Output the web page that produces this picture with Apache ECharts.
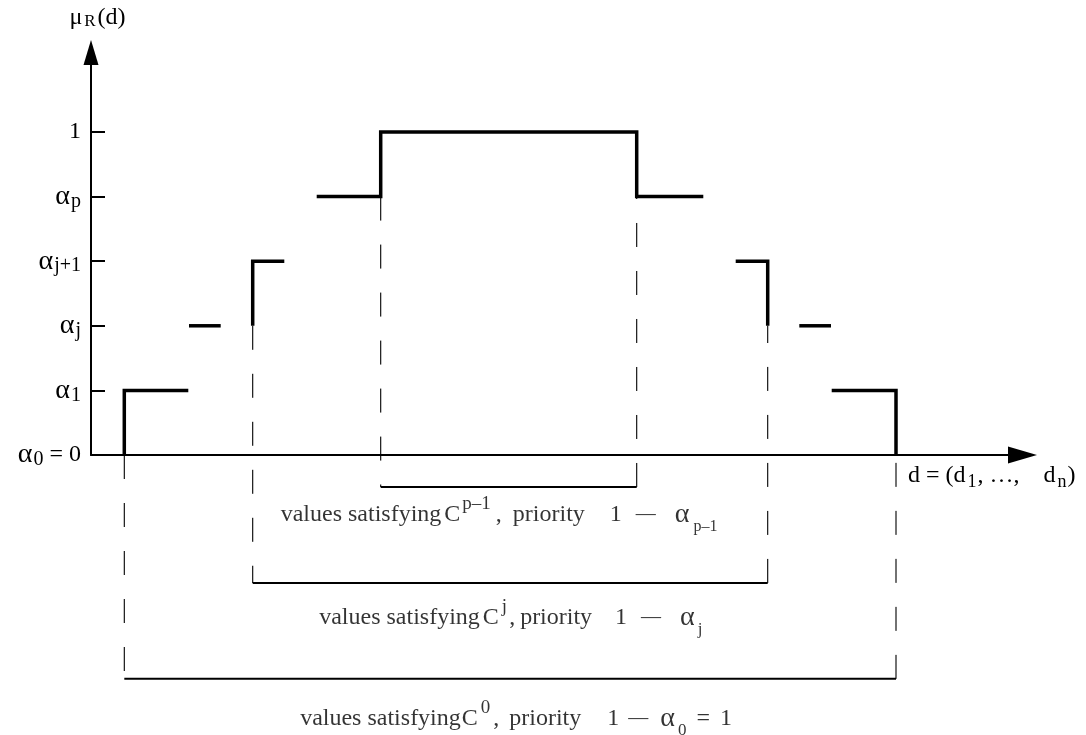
<!DOCTYPE html>
<html><head><meta charset="utf-8">
<script src="https://cdn.jsdelivr.net/npm/echarts@6/dist/echarts.min.js"></script>
<style>html,body{margin:0;padding:0;background:#fff}#c{width:1086px;height:735px}</style>
</head><body><div id="c"></div>
<script>
// membership levels shown on the μ axis
const levelValues = [0, 0.2, 0.4, 0.6, 0.8, 1];
const levelLabels = ['{a|α}{sub|0}{m| = 0}', '{a|α}{sub|1}', '{a|α}{sub|j}', '{a|α}{sub|j+1}', '{a|α}{sub|p}', '{m|1}'];

// step function pieces, points as [d, μ]
const stepPieces = [
  [[3.33, 0], [3.33, 0.2], [9.73, 0.2]],
  [[9.8, 0.4], [12.97, 0.4]],
  [[16.17, 0.4], [16.17, 0.6], [19.33, 0.6]],
  [[22.57, 0.8], [28.97, 0.8], [28.97, 1], [54.57, 1], [54.57, 0.8], [61.23, 0.8]],
  [[64.47, 0.6], [67.67, 0.6], [67.67, 0.4]],
  [[70.83, 0.4], [74.0, 0.4]],
  [[74.07, 0.2], [80.5, 0.2], [80.5, 0]]
];

// dashed projections: [d, from, to]
const projections = [
  [3.33, 0, -0.693],
  [16.17, 0.4, -0.396],
  [28.97, 0.8, -0.099],
  [54.57, -0.099, 0.8],
  [67.67, -0.396, 0.4],
  [80.5, -0.693, 0]
];

// brackets: [dStart, dEnd, level]
const brackets = [
  [28.97, 54.57, -0.099],
  [16.17, 67.67, -0.396],
  [3.33, 80.5, -0.693]
];
const bracketLabels = [
  '{t|values satisfying}{c|C}{sup|p–1}{t|,}{p1|priority}{n1|1}{d1|—}{a1|α}{sub|p–1}',
  '{t|values satisfying}{c|C}{supj|j}{t|,}{p2|priority}{n2|1}{d1|—}{a1|α}{subj|j}',
  '{t|values satisfying}{c0|C}{sup0|0}{t|,}{p3|priority}{n3|1}{d3|—}{a3|α}{sub0|0}{eq|=}{one|1}'
];
const yAxisName = '{m|μ}{r|R}{m|(d)}';
const xAxisName = '{m|d = (d}{sub|1}{m|, …,    d}{sub|n}{m|)}';

const FONT = 'Liberation Serif';
// label start offsets relative to bracket middle (px)
const labelOffsets = [[-228, 28], [-191, 35], [-210, 40]];

const T = (o) => Object.assign({ fontFamily: FONT, color: '#000', fontSize: 24, lineHeight: 40 }, o);
const bottomRich = {
  t: T({}),
  c: T({ padding: [0, 0, 0, 3] }),
  c0: T({ padding: [0, 0, 0, 1] }),
  sup: T({ fontSize: 19, lineHeight: 22, verticalAlign: 'top', padding: [0, 5, 0, 2] }),
  supj: T({ fontSize: 19, lineHeight: 22, verticalAlign: 'top', padding: [0, 2, 0, 3] }),
  sup0: T({ fontSize: 19, lineHeight: 22, verticalAlign: 'top', padding: [0, 3, 0, 3] }),
  p1: T({ padding: [0, 0, 0, 11] }),
  p2: T({ padding: [0, 0, 0, 5] }),
  p3: T({ padding: [0, 0, 0, 10] }),
  n1: T({ padding: [0, 0, 0, 25] }),
  n2: T({ padding: [0, 0, 0, 23] }),
  n3: T({ padding: [0, 0, 0, 26] }),
  d1: T({ fontSize: 20, padding: [0, 0, 0, 14] }),
  d3: T({ fontSize: 20, padding: [0, 0, 0, 9] }),
  a1: T({ fontSize: 28, padding: [0, 0, 0, 19] }),
  a3: T({ fontSize: 28, padding: [0, 0, 0, 12] }),
  sub: T({ fontSize: 16, lineHeight: 10, verticalAlign: 'bottom', padding: [0, 0, 0, 4] }),
  subj: T({ fontSize: 17, lineHeight: 10, verticalAlign: 'bottom', padding: [0, 0, 0, 3] }),
  sub0: T({ fontSize: 17, lineHeight: 10, verticalAlign: 'bottom', padding: [0, 0, 0, 3] }),
  eq: T({ padding: [0, 0, 0, 10] }),
  one: T({ padding: [0, 0, 0, 10] })
};

const series = [];
projections.forEach(p => {
  series.push({
    type: 'line', data: [[p[0], p[1]], [p[0], p[2]]], symbol: 'none', clip: false, silent: true,
    lineStyle: { color: '#000', width: 1.1, type: [24, 24] }, z: 2
  });
});
brackets.forEach(b => {
  series.push({
    type: 'line', data: [[b[0], b[2]], [b[1], b[2]]], symbol: 'none', clip: false, silent: true,
    lineStyle: { color: '#000', width: 2 }, z: 3
  });
});
stepPieces.forEach(piece => {
  series.push({
    type: 'line', data: piece, symbol: 'none', clip: false, silent: true,
    lineStyle: { color: '#000', width: 3.5, join: 'miter', cap: 'butt' }, z: 5
  });
});
brackets.forEach((b, i) => {
  series.push({
    type: 'scatter', data: [[(b[0] + b[1]) / 2, b[2]]], symbolSize: 1, clip: false, silent: true,
    itemStyle: { color: 'rgba(0,0,0,0)' },
    label: {
      show: true, position: 'inside', offset: labelOffsets[i],
      formatter: () => bracketLabels[i],
      align: 'left', verticalAlign: 'middle',
      rich: bottomRich
    }
  });
});

const chart = echarts.init(document.getElementById('c'), null, { renderer: 'canvas' });
chart.setOption({
  animation: false,
  backgroundColor: '#fff',
  grid: { left: 91, right: 63.5, top: 52.5, bottom: 280, containLabel: false },
  xAxis: {
    type: 'value', min: 0, max: 93.15,
    axisLine: { show: true, onZero: false, symbol: ['none', 'triangle'], symbolSize: [17, 29], lineStyle: { color: '#000', width: 2 } },
    axisTick: { show: false }, axisLabel: { show: false }, splitLine: { show: false },
    name: xAxisName, nameLocation: 'end', nameGap: -114.5,
    nameTextStyle: {
      padding: [42, 0, 0, 0], align: 'left', verticalAlign: 'middle',
      rich: {
        m: { fontFamily: FONT, fontSize: 24, color: '#000', lineHeight: 30 },
        sub: { fontFamily: FONT, fontSize: 18, color: '#000', verticalAlign: 'bottom', lineHeight: 12, padding: [0, 1, 0, 2] }
      }
    }
  },
  yAxis: {
    type: 'value', min: 0, max: 1.246,
    axisLine: { show: true, onZero: false, symbol: ['none', 'triangle'], symbolSize: [15, 25], lineStyle: { color: '#000', width: 2 } },
    axisTick: { show: true, inside: true, length: 14, customValues: levelValues.slice(1), lineStyle: { color: '#000', width: 2 } },
    axisLabel: {
      show: true, margin: 10, customValues: levelValues,
      formatter: v => { const i = levelValues.findIndex(x => Math.abs(x - v) < 1e-6); return i < 0 ? '' : levelLabels[i]; },
      rich: {
        m: { fontFamily: FONT, fontSize: 24, color: '#000', lineHeight: 30 },
        a: { fontFamily: FONT, fontSize: 28, color: '#000', lineHeight: 30 },
        sub: { fontFamily: FONT, fontSize: 20, color: '#000', verticalAlign: 'bottom', lineHeight: 16, padding: [0, 0, 0, 1] }
      }
    },
    splitLine: { show: false },
    name: yAxisName, nameLocation: 'end', nameGap: 22,
    nameTextStyle: {
      padding: [0, 0, 0, 13],
      rich: {
        m: { fontFamily: FONT, fontSize: 24, color: '#000', lineHeight: 26 },
        r: { fontFamily: FONT, fontSize: 17, color: '#000', lineHeight: 22, verticalAlign: 'bottom', padding: [0, 2, 0, 2] }
      }
    }
  },
  series: series
});
</script>
</body></html>
